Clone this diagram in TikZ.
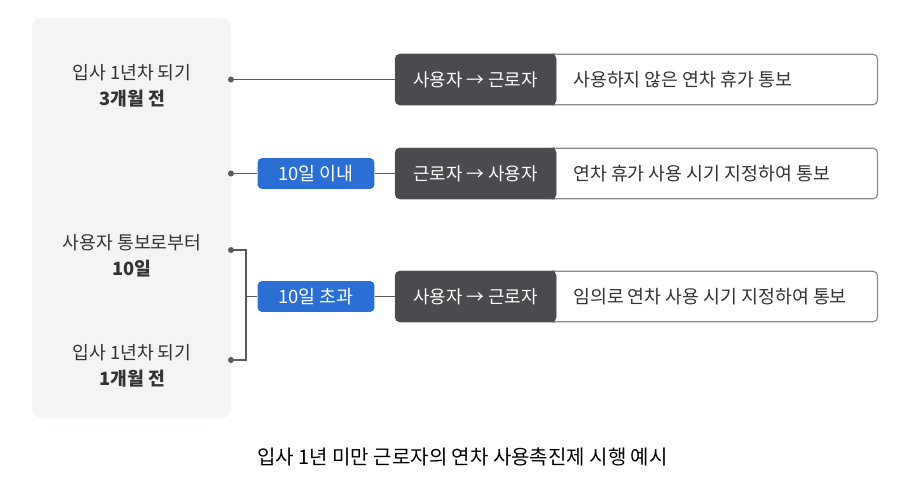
\documentclass[tikz,border=0pt]{standalone}
\usepackage{fontspec}
\setmainfont{Noto Sans CJK KR}
\definecolor{panelgray}{HTML}{F3F4F6}
\definecolor{darkbox}{HTML}{4A4B4F}
\definecolor{bluebox}{HTML}{2B6FD5}
\definecolor{linegray}{HTML}{5A5A5A}
\definecolor{txt}{HTML}{333333}
\definecolor{bordergray}{HTML}{8A8A8A}
\begin{document}
\begin{tikzpicture}[x=0.75pt,y=-0.75pt,
  lefttxt/.style={align=center,text=txt,font=\fontsize{13.7}{19.5}\selectfont,inner sep=0pt},
  whitebox/.style={draw=bordergray,line width=0.9pt,fill=white,rounded corners=3.5pt,minimum width=361.5pt,minimum height=38pt,inner sep=0pt},
  darkbox/.style={fill=darkbox,rounded corners=3.5pt,minimum width=120.75pt,minimum height=38.25pt,inner sep=0pt,text=white,font=\fontsize{13.4}{15}\selectfont},
  msg/.style={anchor=west,text=txt,font=\fontsize{13.75}{15}\selectfont,inner sep=0pt},
  bluebox/.style={fill=bluebox,rounded corners=3pt,minimum width=87.5pt,minimum height=23pt,inner sep=0pt,text=white,font=\fontsize{13.8}{15}\selectfont},
  conn/.style={draw=linegray,line width=0.9pt},
  dot/.style={circle,fill=linegray,inner sep=0pt,minimum size=4.5pt}
]
\useasboundingbox (0,0) rectangle (916,485);
% panel
\fill[panelgray,rounded corners=7pt] (32,18) rectangle (231,418);
% left texts
\node[lefttxt] (t1) at (132,86) {입사 1년차 되기\\\textbf{3개월 전}};
\node[lefttxt] (t2) at (132,255.5) {사용자 통보로부터\\\textbf{10일}};
\node[lefttxt] (t3) at (132,365.5) {입사 1년차 되기\\\textbf{1개월 전}};
% dots
\coordinate (p1) at (231,79.5);
\coordinate (p2) at (231,173.5);
\coordinate (p3a) at (231,250);
\coordinate (p3b) at (231,360);
\coordinate (brk) at (246,296.5);
% white boxes
\node[whitebox] (w1) at (636.5,79.5) {};
\node[whitebox] (w2) at (636.5,173.5) {};
\node[whitebox] (w3) at (636.5,296.5) {};
% dark boxes
\node[darkbox] (d1) at (475.5,79.5) {사용자 → 근로자};
\node[darkbox] (d2) at (475.5,173.5) {근로자 → 사용자};
\node[darkbox] (d3) at (475.5,296.5) {사용자 → 근로자};
\fill[darkbox] (d1.north east) ++(-6,0) rectangle (d1.south east);
\fill[darkbox] (d2.north east) ++(-6,0) rectangle (d2.south east);
\fill[darkbox] (d3.north east) ++(-6,0) rectangle (d3.south east);
% messages
\node[msg] (m1) at (573,79.5) {사용하지 않은 연차 휴가 통보};
\node[msg] (m2) at (573,173.5) {연차 휴가 사용 시기 지정하여 통보};
\node[msg] (m3) at (573,296.5) {임의로 연차 사용 시기 지정하여 통보};
% blue boxes
\node[bluebox] (b2) at (316,173.5) {10일 이내};
\node[bluebox] (b3) at (316,296.5) {10일 초과};
% connectors
\draw[conn] (p1) -- (d1.west);
\draw[conn] (p2) -- (b2.west);
\draw[conn] (b2.east) -- (d2.west);
\draw[conn] (p3a) -| (brk) |- (p3b);
\draw[conn] (brk) -- (b3.west);
\draw[conn] (b3.east) -- (d3.west);
\foreach \p in {p1,p2,p3a,p3b} \node[dot] at (\p) {};
% caption
\node[text=black,font=\fontsize{15}{17}\selectfont,inner sep=0pt] (cap) at (462.5,457) {입사 1년 미만 근로자의 연차 사용촉진제 시행 예시};
\end{tikzpicture}
\end{document}
